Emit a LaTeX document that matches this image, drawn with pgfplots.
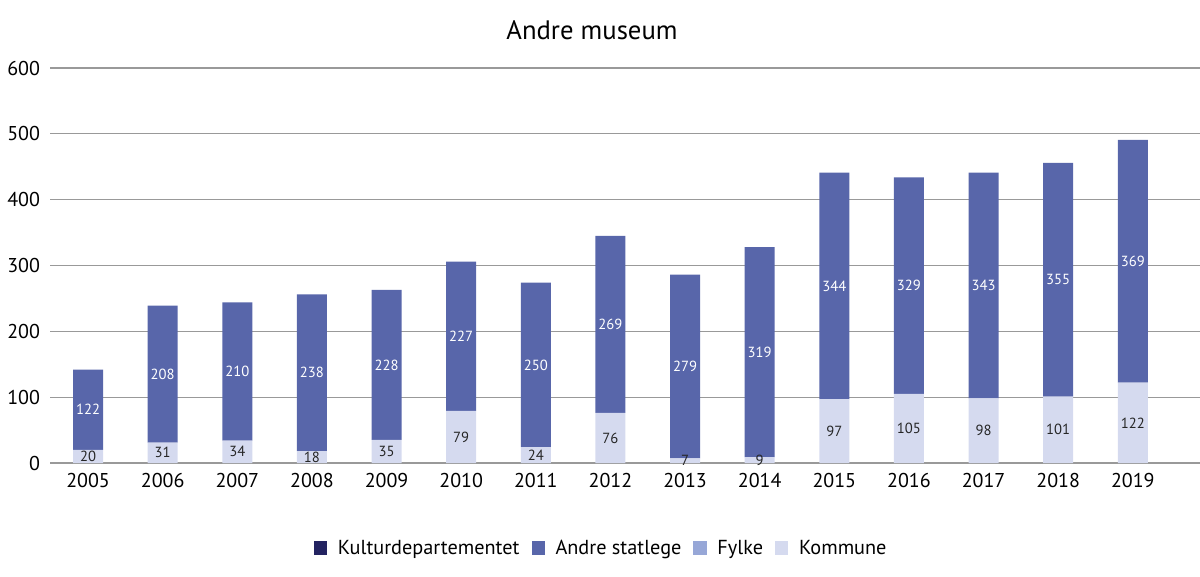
\documentclass[border=0pt]{standalone}
\usepackage{pgfplots}
\pgfplotsset{compat=1.18}
\usepackage{pgfplotstable}
\usepackage{fontspec}
\setmainfont{PT Sans}
\definecolor{kdep}{HTML}{232361}
\definecolor{astat}{HTML}{5866AA}
\definecolor{fylke}{HTML}{97A7D7}
\definecolor{komm}{HTML}{D5DAEF}
\pgfplotstableread{
x year k f a c
0 2005 20 0 122 0
1 2006 31 0 208 0
2 2007 34 0 210 0
3 2008 18 0 238 0
4 2009 35 0 228 0
5 2010 79 0 227 0
6 2011 24 0 250 0
7 2012 76 0 269 0
8 2013 7 0 279 0
9 2014 9 0 319 0
10 2015 97 0 344 0
11 2016 105 0 329 0
12 2017 98 0 343 0
13 2018 101 0 355 0
14 2019 122 0 369 0
}\data
\begin{document}
\begin{tikzpicture}
\path[use as bounding box] (0,0) rectangle (900pt,432pt);
\node[font=\fontsize{20}{24}\selectfont] at (444pt,409.5pt) {Andre museum};
\begin{axis}[
  at={(37.5pt,84.75pt)}, anchor=south west,
  scale only axis, width=862.5pt, height=296.25pt,
  ybar stacked, bar width=22.5pt,
  xmin=-0.51, xmax=14.9, ymin=0, ymax=600,
  xtick=data, xticklabels={2005,2006,2007,2008,2009,2010,2011,2012,2013,2014,2015,2016,2017,2018,2019},
  ytick={0,100,...,600},
  ymajorgrids, grid style={gray!80, line width=0.8pt},
  axis x line*=bottom, axis y line*=left,
  x axis line style={draw=gray!80, line width=0.8pt, -},
  y axis line style={draw=none},
  ytick style={draw=none}, xtick style={draw=none},
  tick label style={font=\fontsize{15}{17}\selectfont},
  /pgf/number format/assume math mode=true,
  yticklabel style={xshift=-4pt},
  xticklabel style={yshift=-4pt},
  legend style={at={(0.4796,-0.215)}, anchor=center, draw=none, legend columns=4,
    font=\fontsize{15.2}{17}\selectfont,
    /tikz/every even column/.append style={column sep=7pt}},
  legend image code/.code={\path[draw=none, fill=none] (0pt,0pt) -- (16pt,0pt);\fill[#1, draw=none] (0pt,-5pt) rectangle (10pt,5pt);},
  nodes near coords, point meta=explicit,
  every node near coord/.append style={anchor=center, font=\fontsize{11}{12}\selectfont},
]
\addlegendimage{fill=kdep}
\addlegendentry{Kulturdepartementet}
\addlegendimage{fill=astat}
\addlegendentry{Andre statlege\hspace{22pt}}
\addlegendimage{fill=fylke}
\addlegendentry{Fylke\hspace{28pt}}
\addlegendimage{fill=komm}
\addlegendentry{Kommune}
\addplot[fill=komm, draw=none, forget plot,
  every node near coord/.append style={text=black!85}] table[x=x, y=k, meta=k] {\data};
\addplot[fill=fylke, draw=none, forget plot, nodes near coords=\empty] table[x=x, y=f, meta=f] {\data};
\addplot[fill=astat, draw=none, forget plot,
  every node near coord/.append style={text=white}] table[x=x, y=a, meta=a] {\data};
\end{axis}
\end{tikzpicture}
\end{document}
